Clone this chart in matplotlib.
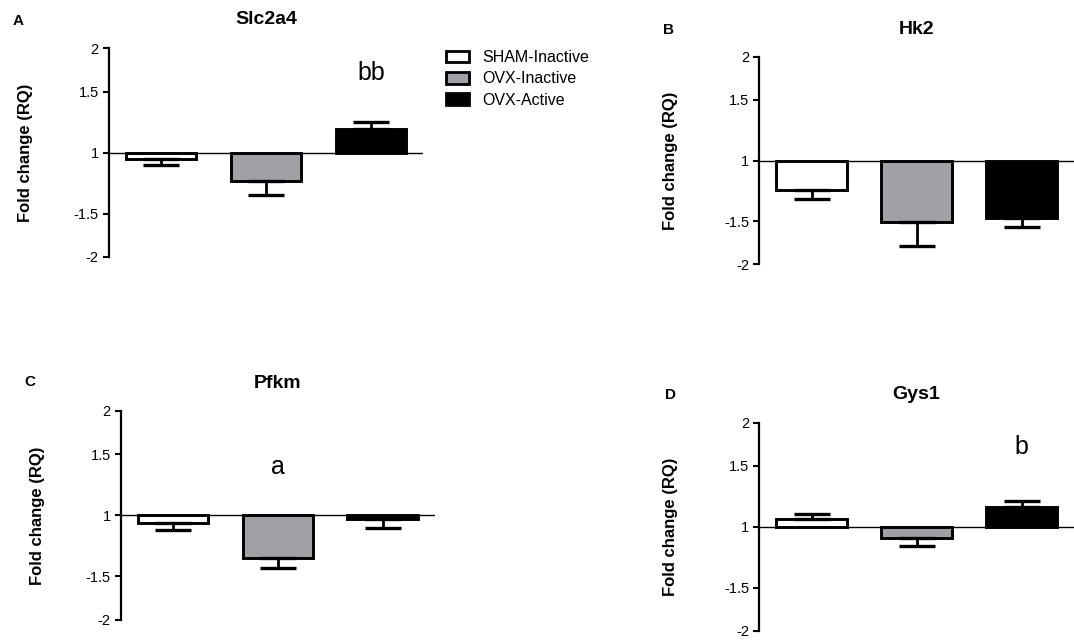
import numpy as np
import matplotlib
matplotlib.use("Agg")
import matplotlib.pyplot as plt
from matplotlib.patches import Patch

plt.rcParams['font.family'] = ['Liberation Sans', 'DejaVu Sans']

# ---------------- data (log2 fold change) ----------------
groups = ["SHAM-Inactive", "OVX-Inactive", "OVX-Active"]
genes = ["Slc2a4", "Hk2", "Pfkm", "Gys1"]
panel_letters = ["A", "B", "C", "D"]

slc2a4_mean = [-0.058, -0.274, 0.224]
slc2a4_err = [0.060, 0.128, 0.073]
hk2_mean = [-0.289, -0.593, -0.555]
hk2_err = [0.080, 0.226, 0.081]
pfkm_mean = [-0.071, -0.406, -0.038]
pfkm_err = [0.070, 0.099, 0.084]
gys1_mean = [0.077, -0.106, 0.189]
gys1_err = [0.044, 0.080, 0.064]

annot_text = ["bb", None, "a", "b"]
annot_group = [2, None, 1, 2]
annot_y = [0.767, None, 0.466, 0.763]

tick_vals = [1.0, np.log2(1.5), 0.0, -np.log2(1.5), -1.0]
tick_labels = ["2", "1.5", "1", "-1.5", "-2"]

colors = ["white", "#a1a0a5", "black"]

means = [slc2a4_mean, hk2_mean, pfkm_mean, gys1_mean]
errs = [slc2a4_err, hk2_err, pfkm_err, gys1_err]

# ---------------- layout (pixels) ----------------
W, H = 1074, 643
fig = plt.figure(figsize=(W / 100, H / 100), dpi=100)

def rect(l, r, t, b):
    return [l / W, 1 - b / H, (r - l) / W, (b - t) / H]

axes_px = [(108.5, 423.3, 48.3, 257.0),
           (759.0, 1074.0, 56.7, 264.3),
           (120.5, 435.0, 411.0, 619.7),
           (759.0, 1074.0, 422.7, 631.0)]
title_px = [(266, 19), (916.5, 29.7), (278, 383), (916.5, 394.3)]
letter_px = [(18.3, 21), (669, 30.5), (30.3, 382.5), (670.4, 395)]
ylabel_px = [25.8, 671, 38, 671]

x = np.arange(3)
for i in range(4):
    l, r, t, b = axes_px[i]
    ax = fig.add_axes(rect(l, r, t, b))
    m = np.array(means[i])
    e = np.array(errs[i])
    ax.bar(x, m, width=0.67, color=colors, edgecolor="black", linewidth=2.1, zorder=2)
    lower = np.where(m < 0, e, 0)
    upper = np.where(m >= 0, e, 0)
    ax.errorbar(x, m, yerr=[lower, upper], fmt="none", ecolor="black",
                elinewidth=2.0, capsize=13, capthick=2.4, zorder=3)
    ax.axhline(0, color="black", lw=1.0, zorder=4)
    ax.set_xlim(-0.5, 2.5)
    ax.set_ylim(-1, 1)
    ax.set_yticks(tick_vals)
    ax.set_yticklabels(tick_labels, fontsize=10.5)
    ax.tick_params(axis="y", direction="out", length=4, width=1.5, pad=3)
    ax.set_xticks([])
    for s in ["top", "right", "bottom"]:
        ax.spines[s].set_visible(False)
    ax.spines["left"].set_linewidth(1.6)
    ax.spines["left"].set_bounds(-1, 1)
    ax.set_facecolor("none")
    if annot_text[i]:
        ax.text(x[annot_group[i]], annot_y[i], annot_text[i], ha="center",
                va="center", fontsize=18)
    tx, ty = title_px[i]
    fig.text(tx / W, 1 - ty / H, genes[i], ha="center", va="center",
             fontsize=14, fontweight="bold")
    lx, ly = letter_px[i]
    fig.text(lx / W, 1 - ly / H, panel_letters[i], ha="center", va="center",
             fontsize=11, fontweight="bold")
    fig.text(ylabel_px[i] / W, 1 - ((t + b) / 2) / H, "Fold change (RQ)",
             rotation=90, ha="center", va="center", fontsize=12, fontweight="bold")

handles = [Patch(facecolor=c, edgecolor="black", linewidth=2.0) for c in colors]
fig.legend(handles, groups, loc="upper left", bbox_to_anchor=(446 / W, 1 - 50 / H),
           frameon=False, fontsize=11.5, handlelength=1.44, handleheight=0.75,
           handletextpad=0.8, labelspacing=0.4, borderpad=0, borderaxespad=0)

fig.savefig("out.png", dpi=100)
